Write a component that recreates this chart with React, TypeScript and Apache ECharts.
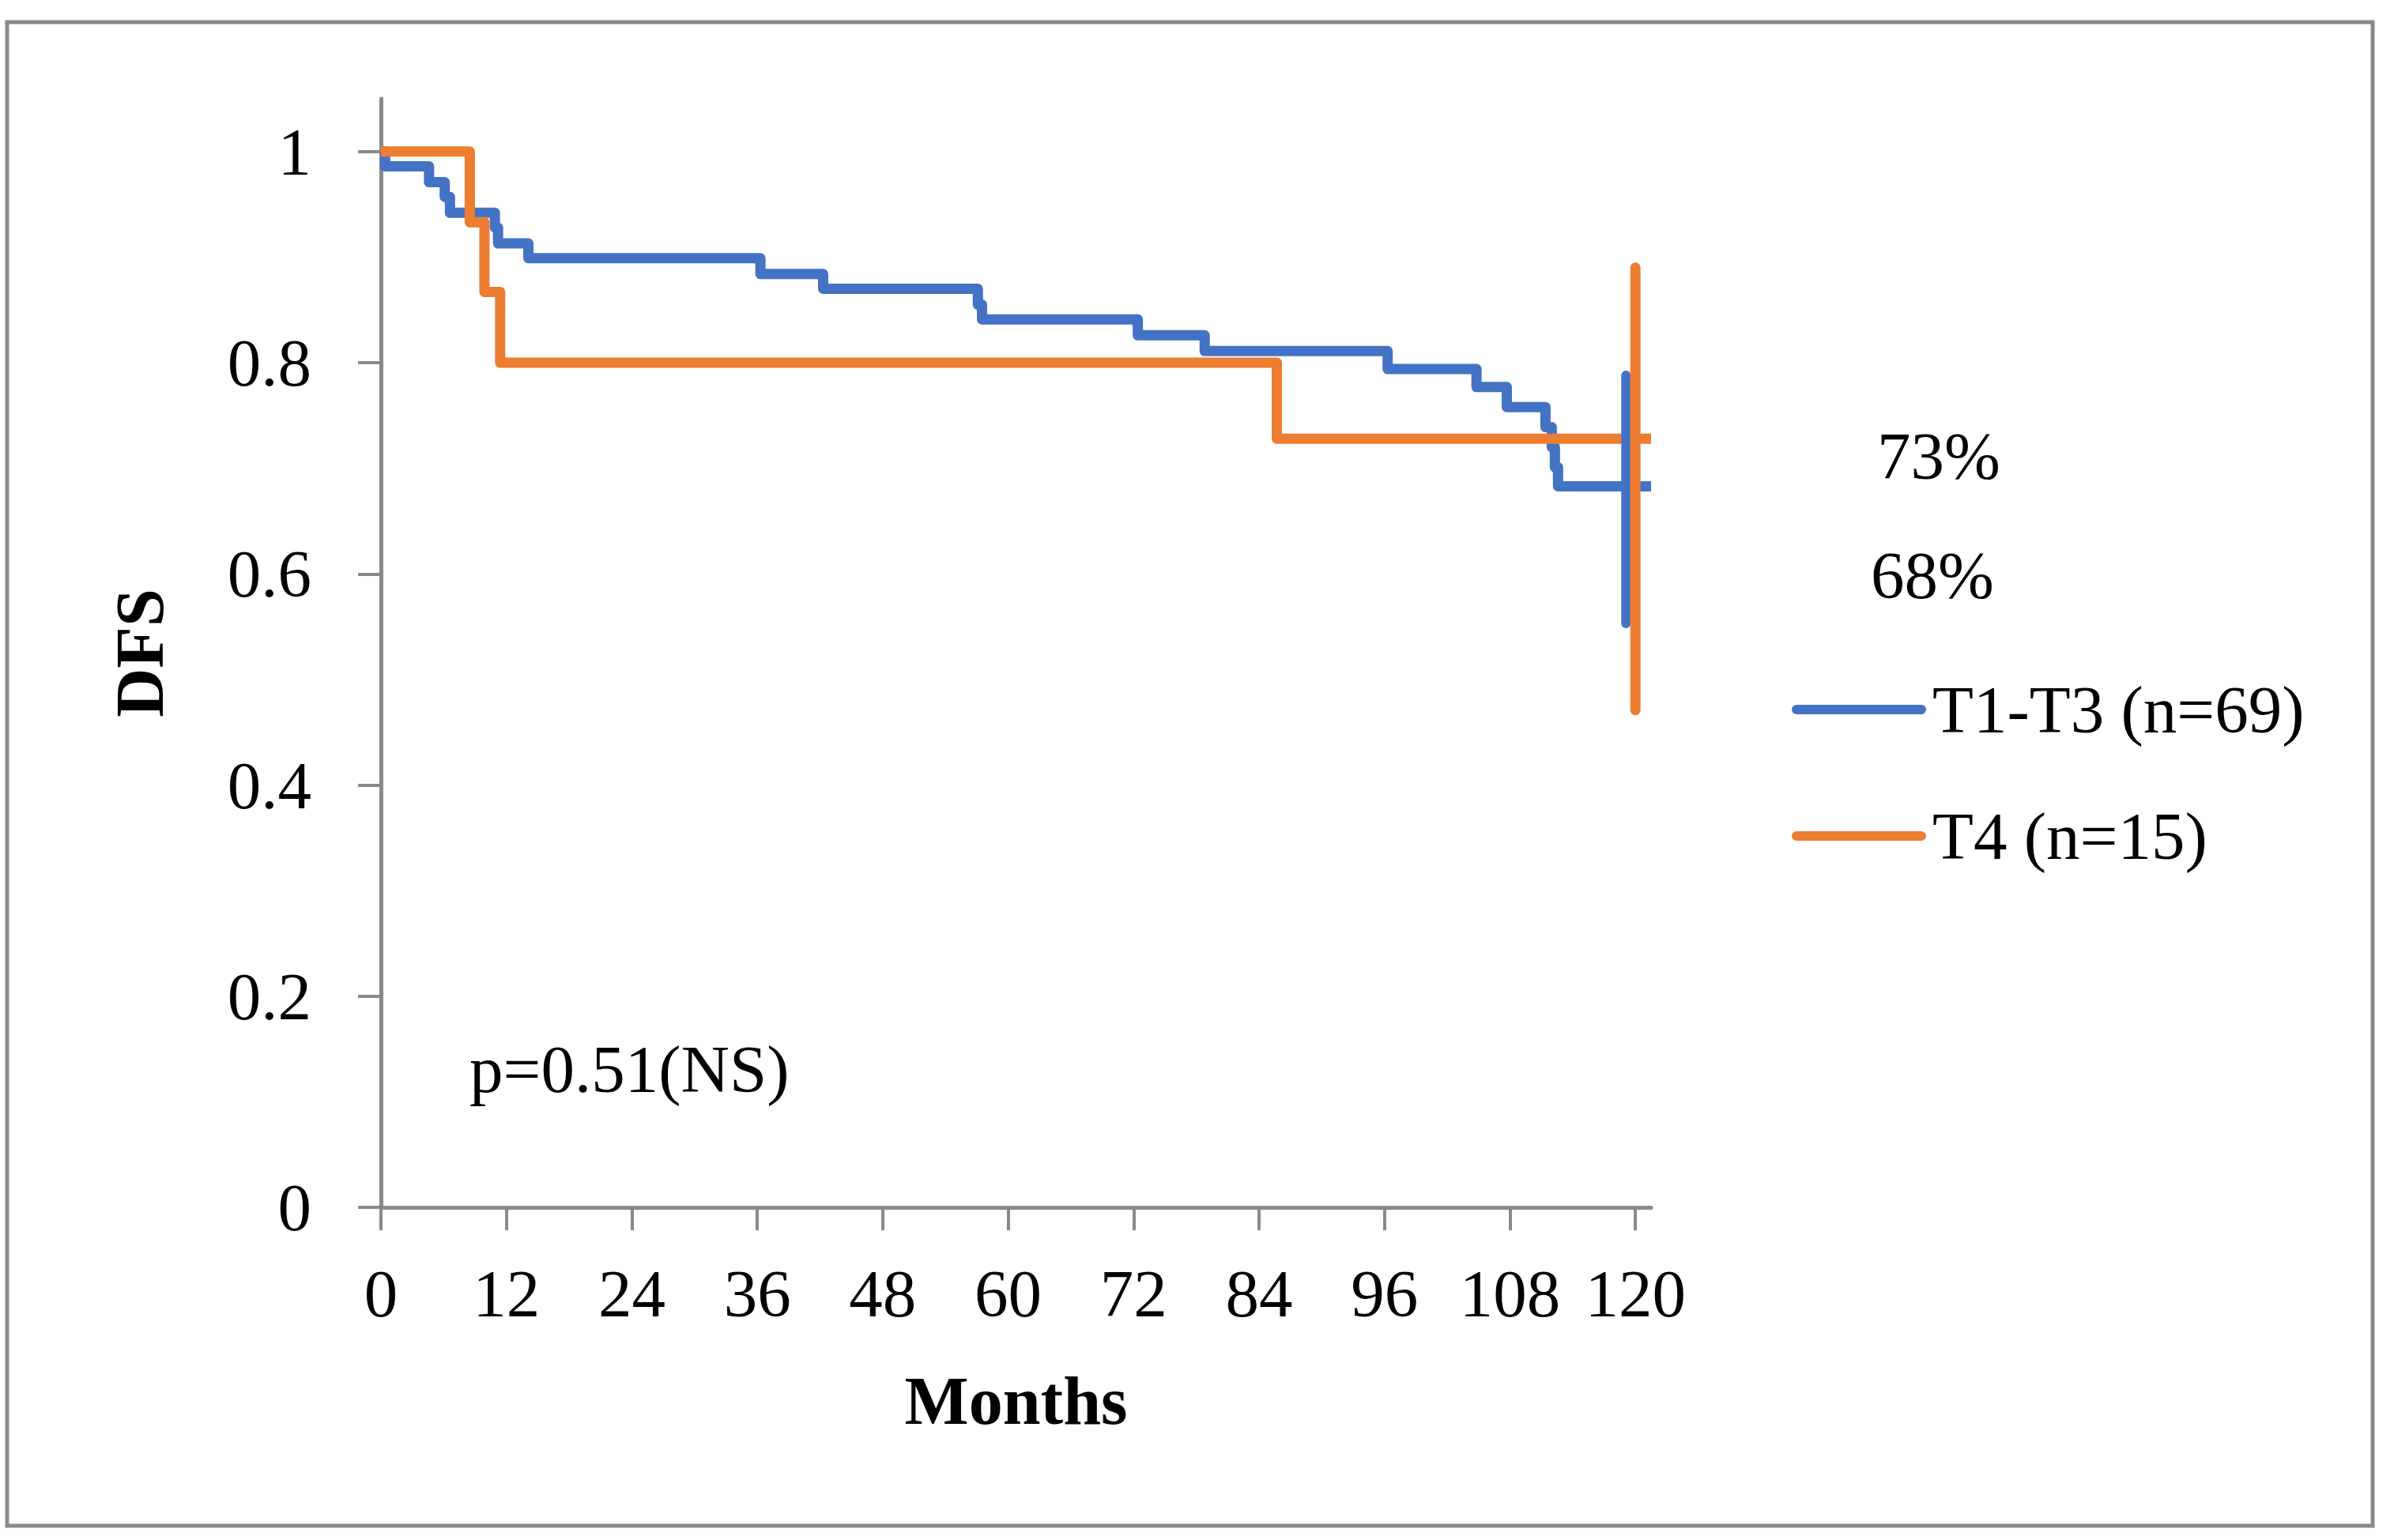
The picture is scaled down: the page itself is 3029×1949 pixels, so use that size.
import React, { useEffect, useRef } from "react";
import * as echarts from "echarts";

// Kaplan-Meier step data
const blueName = "T1-T3 (n=69)";
const blueMonths = [0, 0.4, 4.6, 6.1, 6.6, 10.9, 11.2, 14.1, 36.3, 42.3, 57.1, 57.5, 72.4, 78.8, 96.3, 104.8, 107.7, 111.4, 112.0, 112.3, 112.6, 121.5];
const blueDFS = [1, 0.986, 0.971, 0.957, 0.942, 0.928, 0.913, 0.899, 0.884, 0.87, 0.855, 0.841, 0.826, 0.811, 0.794, 0.777, 0.758, 0.739, 0.72, 0.701, 0.683, 0.683];

const orangeName = "T4 (n=15)";
const orangeMonths = [0, 8.5, 9.9, 11.4, 85.7, 121.5];
const orangeDFS = [1, 0.933, 0.867, 0.8, 0.728, 0.728];

// vertical bars at the end of follow-up
const blueBarMonth = 119.1;
const blueBarRange = [0.553, 0.788];
const orangeBarMonth = 120;
const orangeBarRange = [0.471, 0.89];

const xTicks = [0, 12, 24, 36, 48, 60, 72, 84, 96, 108, 120];
const yTicks = [0, 0.2, 0.4, 0.6, 0.8, 1];

const annBlue = "68%";
const annOrange = "73%";
const pText = "p=0.51(NS)";

const BLUE = "#4472C4";
const ORANGE = "#ED7D31";
const GRAY = "#898989";
const FONT = "'Liberation Serif', 'Times New Roman', serif";

export default function App() {
  const ref = useRef<HTMLDivElement>(null);
  useEffect(() => {
    if (!ref.current) return;
    const chart = echarts.init(ref.current, null, { renderer: "svg" });
    const zip = (a: number[], b: number[]) => a.map((v, i) => [v, b[i]]);
    const lineBase = { type: "line", symbol: "none", silent: true };
    const pill = "path://M6,0 L164,0 A6,6 0 0 1 164,12 L6,12 A6,6 0 0 1 6,0 Z";
    chart.setOption({
      animation: false,
      backgroundColor: "#ffffff",
      textStyle: { fontFamily: FONT },
      grid: { left: 482, top: 125, width: 1607, height: 1403 },
      xAxis: {
        type: "value",
        min: 0,
        max: 121.5,
        name: "Months",
        nameLocation: "middle",
        nameGap: 202,
        nameTextStyle: { fontFamily: FONT, fontSize: 86, fontWeight: "bold", color: "#000" },
        axisLine: { show: true, onZero: true, lineStyle: { color: GRAY, width: 5 } },
        axisTick: { show: true, length: 29, customValues: xTicks, lineStyle: { color: GRAY, width: 4 } },
        axisLabel: { customValues: xTicks, margin: 66, fontFamily: FONT, fontSize: 85, color: "#000" },
        splitLine: { show: false },
      },
      yAxis: {
        type: "value",
        min: 0,
        max: 1.05,
        name: "DFS",
        nameLocation: "middle",
        nameGap: 262,
        nameRotate: 90,
        nameTextStyle: { fontFamily: FONT, fontSize: 86, fontWeight: "bold", color: "#000" },
        axisLine: { show: true, onZero: true, lineStyle: { color: GRAY, width: 5 } },
        axisTick: { show: true, length: 29, customValues: yTicks, lineStyle: { color: GRAY, width: 4 } },
        axisLabel: { customValues: yTicks, margin: 88, padding: [0, 0, 12, 0], fontFamily: FONT, fontSize: 85, color: "#000" },
        splitLine: { show: false },
      },
      legend: {
        orient: "vertical",
        left: 2262,
        top: 843,
        itemWidth: 170,
        itemHeight: 13,
        itemGap: 60,
        icon: pill,
        data: [blueName, orangeName],
        textStyle: { fontFamily: FONT, fontSize: 85, color: "#000", lineHeight: 100, padding: [0, 0, 0, 3] },
        selectedMode: false,
      },
      series: [
        {
          ...lineBase,
          name: blueName,
          step: "end",
          data: zip(blueMonths, blueDFS),
          color: BLUE,
          lineStyle: { color: BLUE, width: 13, cap: "butt", join: "round" },
          z: 2,
        },
        {
          ...lineBase,
          name: orangeName,
          step: "end",
          data: zip(orangeMonths, orangeDFS),
          color: ORANGE,
          lineStyle: { color: ORANGE, width: 13, cap: "butt", join: "round" },
          z: 3,
        },
        {
          ...lineBase,
          name: "T1-T3 bar",
          data: blueBarRange.map((v) => [blueBarMonth, v]),
          color: BLUE,
          lineStyle: { color: BLUE, width: 12, cap: "round" },
          z: 4,
        },
        {
          ...lineBase,
          name: "T4 bar",
          data: orangeBarRange.map((v) => [orangeBarMonth, v]),
          color: ORANGE,
          lineStyle: { color: ORANGE, width: 13, cap: "round" },
          z: 5,
        },
      ],
      graphic: [
        {
          type: "rect",
          shape: { x: 9, y: 28, width: 2993, height: 1903 },
          style: { fill: "none", stroke: GRAY, lineWidth: 5 },
          silent: true,
          z: 0,
        },
        {
          type: "text",
          x: 2375,
          y: 577,
          style: { text: annOrange, font: `85px ${FONT}`, fill: "#000", textVerticalAlign: "middle" },
        },
        {
          type: "text",
          x: 2367,
          y: 728,
          style: { text: annBlue, font: `85px ${FONT}`, fill: "#000", textVerticalAlign: "middle" },
        },
        {
          type: "text",
          x: 594,
          y: 1353,
          style: { text: pText, font: `85px ${FONT}`, fill: "#000", textVerticalAlign: "middle" },
        },
      ],
    });
    return () => chart.dispose();
  }, []);
  return (
    <div
      ref={ref}
      style={{ position: "absolute", left: 0, top: 0, width: 3029, height: 1949, background: "#fff" }}
    />
  );
}
